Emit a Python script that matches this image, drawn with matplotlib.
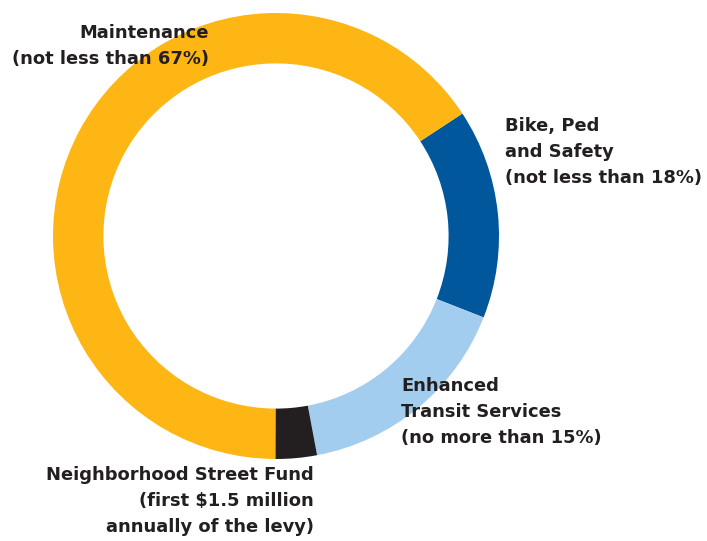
import matplotlib as mpl
mpl.use('Agg')
import matplotlib.pyplot as plt

# shares (percent of the circle)
categories = ["Bike, Ped and Safety", "Enhanced Transit Services",
              "Neighborhood Street Fund", "Maintenance"]
shares = [15.2, 16.1, 3.0, 65.7]
colors = ["#00579b", "#a3cdee", "#231f20", "#fdb614"]

labels = [
    "Bike, Ped\nand Safety\n(not less than 18%)",
    "Enhanced\nTransit Services\n(no more than 15%)",
    "Neighborhood Street Fund\n(first $1.5 million\nannually of the levy)",
    "Maintenance\n(not less than 67%)",
]

fig = plt.figure(figsize=(7.07, 5.41), dpi=100)
# axes sized so that radius 1 is ~223 px, centred at (276, 236) px
ax = fig.add_axes([53 / 707, 82 / 541, 446 / 707, 446 / 541])

ax.pie(shares, colors=colors, startangle=33.3, counterclock=False,
       radius=1.0, wedgeprops=dict(width=0.226, edgecolor="none"))
ax.set_xlim(-1, 1)
ax.set_ylim(-1, 1)
ax.set_aspect("equal")
ax.axis("off")

txt = dict(fontsize=12.9, color="#231f20", family="DejaVu Sans", fontweight="bold",
           linespacing=1.57, transform=fig.transFigure)

def px(x, y):
    return x / 707, 1 - y / 541

fig.text(*px(505, 152), labels[0], ha="left", va="center", **txt)
fig.text(*px(401, 412), labels[1], ha="left", va="center", **txt)
fig.text(*px(314, 501), labels[2], ha="right", va="center", multialignment="right", **txt)
fig.text(*px(209, 46), labels[3], ha="right", va="center", multialignment="right", **txt)

fig.savefig("out.png", dpi=100)
